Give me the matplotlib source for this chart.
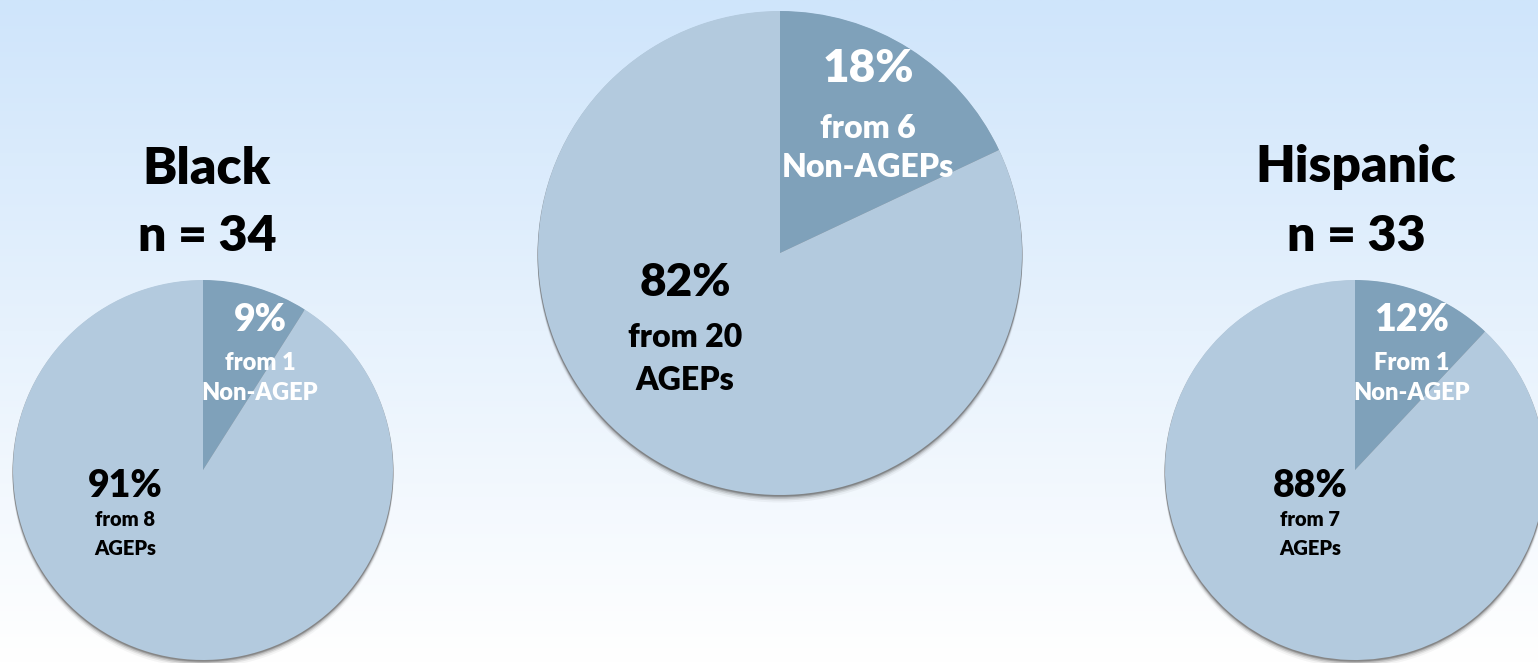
import numpy as np
import matplotlib
matplotlib.use("Agg")
import matplotlib.pyplot as plt
from matplotlib.patches import Circle

# ---- data ----
groups = ["Black", "", "Hispanic"]
group_n = ["n = 34", "", "n = 33"]
non_agep_pct = [9, 18, 12]
agep_pct = [91, 82, 88]
non_agep_text = ["from 1\nNon-AGEP", "from 6\nNon-AGEPs", "From 1\nNon-AGEP"]
agep_text = ["from 8\nAGEPs", "from 20\nAGEPs", "from 7\nAGEPs"]

# ---- layout (pixel coordinates, y measured from top) ----
W, H = 1538, 663
centers = [(203, 470), (780, 253), (1355, 470)]
radii = [190, 242, 190]
title_pos = [(206, 184), None, (1356, 182)]
n_pos = [(207, 251), None, (1356, 251)]
small_pos = [(260, 320), (868, 69), (1412, 320)]
small_sub_pos = [(260, 378), (868, 148), (1412, 378)]
big_pos = [(125, 486), (685, 282), (1310, 486)]
big_sub_pos = [(125, 534), (685, 359), (1310, 534)]
pct_sizes = [27, 33, 27]
small_sub_sizes = [17, 23, 17]
big_sub_sizes = [14.5, 23, 14.5]
small_spacing = [1.42, 1.45, 1.42]
big_spacing = [1.65, 1.6, 1.65]

dark = "#7FA1BA"
light = "#B3CADE"
FONT = "Lato"
WEIGHT = "heavy"

fig = plt.figure(figsize=(W / 100, H / 100), dpi=100)
ax = fig.add_axes([0, 0, 1, 1])
ax.set_xlim(0, W)
ax.set_ylim(0, H)
ax.axis("off")

# background gradient
top = np.array([0xCF, 0xE5, 0xFB]) / 255
bot = np.array([1.0, 1.0, 1.0])
t = np.linspace(0, 1, 256)[:, None]
grad = top * (1 - t) + bot * t
img = np.repeat(grad[:, None, :], 2, axis=1)
ax.imshow(img, extent=[0, W, 0, H], aspect="auto", origin="upper", zorder=0)


def Y(y):
    return H - y


for i in range(3):
    cx, cy = centers[i]
    r = radii[i]
    # soft shadow
    for off, a in [(7, 0.05), (5, 0.10), (3.5, 0.16), (2, 0.25), (1, 0.3)]:
        ax.add_patch(Circle((cx, Y(cy) - off), r + 0.5, facecolor="#404040",
                            edgecolor="none", alpha=a, zorder=1))
    wedges, _ = ax.pie([non_agep_pct[i], agep_pct[i]], colors=[dark, light],
                       startangle=90, counterclock=False, center=(cx, Y(cy)),
                       radius=r, wedgeprops=dict(linewidth=0), frame=True)
    for w in wedges:
        w.set_zorder(2)

    # texts
    if groups[i]:
        ax.text(title_pos[i][0], Y(title_pos[i][1]), groups[i], ha="center",
                va="baseline", fontsize=37, fontweight=WEIGHT, family=FONT,
                color="black", zorder=5)
        ax.text(n_pos[i][0], Y(n_pos[i][1]), group_n[i], ha="center",
                va="baseline", fontsize=36, fontweight=WEIGHT, family=FONT,
                color="black", zorder=5)
    ax.text(small_pos[i][0], Y(small_pos[i][1]), f"{non_agep_pct[i]}%",
            ha="center", va="center", fontsize=pct_sizes[i], fontweight=WEIGHT,
            family=FONT, color="white", zorder=5)
    ax.text(small_sub_pos[i][0], Y(small_sub_pos[i][1]), non_agep_text[i],
            ha="center", va="center", fontsize=small_sub_sizes[i],
            fontweight=WEIGHT, family=FONT, color="white",
            linespacing=small_spacing[i], zorder=5)
    ax.text(big_pos[i][0], Y(big_pos[i][1]), f"{agep_pct[i]}%",
            ha="center", va="center", fontsize=pct_sizes[i], fontweight=WEIGHT,
            family=FONT, color="black", zorder=5)
    ax.text(big_sub_pos[i][0], Y(big_sub_pos[i][1]), agep_text[i],
            ha="center", va="center", fontsize=big_sub_sizes[i],
            fontweight=WEIGHT, family=FONT, color="black",
            linespacing=big_spacing[i], zorder=5)

ax.set_xlim(0, W)
ax.set_ylim(0, H)
ax.set_aspect("auto")
ax.axis("off")

fig.savefig("out.png", dpi=100)
